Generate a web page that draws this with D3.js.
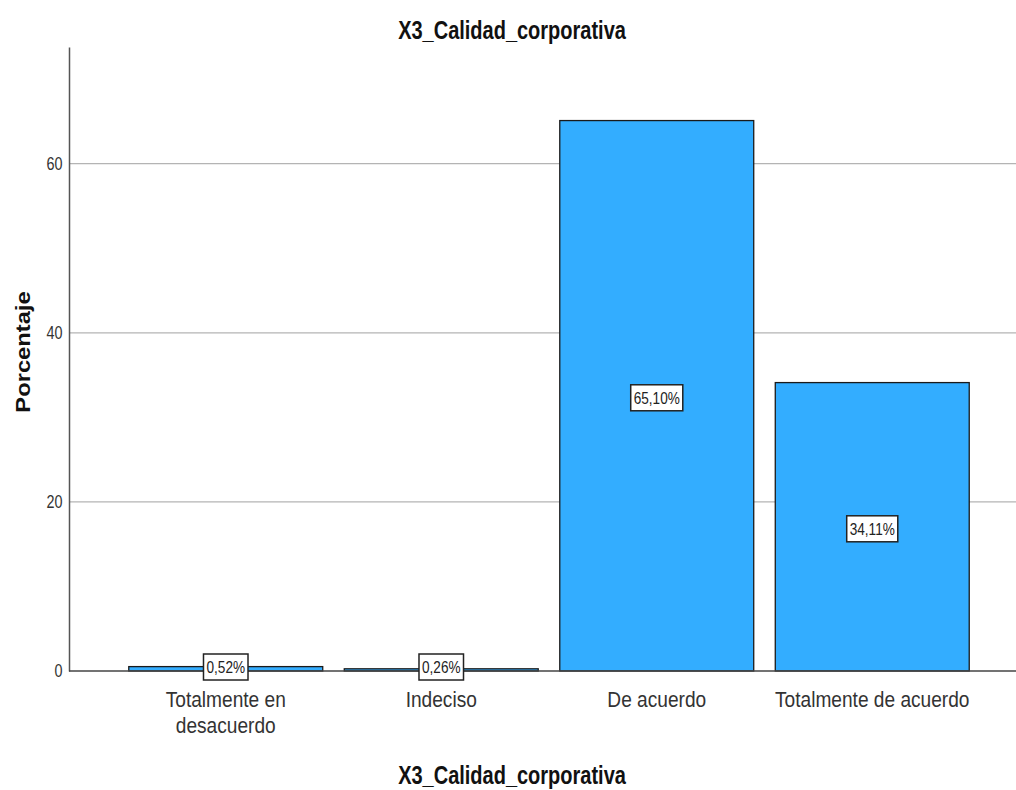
<!DOCTYPE html>
<html>
<head>
<meta charset="utf-8">
<script src="https://cdn.jsdelivr.net/npm/d3@7"></script>
<style>
  body { margin: 0; background: #fff; }
  svg { display: block; }
  text { font-family: "Liberation Sans", Arial, sans-serif; }
</style>
</head>
<body>
<script>
var categories = ["Totalmente en desacuerdo", "Indeciso", "De acuerdo", "Totalmente de acuerdo"];
var percentages = [0.52, 0.26, 65.10, 34.11];
var valueLabels = ["0,52%", "0,26%", "65,10%", "34,11%"];
var yTicks = [0, 20, 40, 60];

var WIDTH = 1016;
var HEIGHT = 790;
var AXIS_X = 69;
var BASE_Y = 671;
var TOP_Y = 47;
var SQUEEZE = 'scale(0.8,1)';

var translate = function (x, y) {
    return 'translate(' + x + ',' + y + ')';
};

var svg = d3.select('body').append('svg')
    .attr('width', WIDTH)
    .attr('height', HEIGHT);

var xScale = d3.scaleBand()
    .domain(categories)
    .range([118, 980])
    .paddingInner(0.1)
    .paddingOuter(0.05);

var yScale = d3.scaleLinear()
    .domain([0, 73.8])
    .range([BASE_Y, TOP_Y]);

// gridlines
svg.append('g').selectAll('line')
    .data(yTicks.filter(function (d) { return d > 0; }))
    .enter()
    .append('line')
    .attr('x1', AXIS_X)
    .attr('x2', WIDTH)
    .attr('y1', function (d) { return yScale(d); })
    .attr('y2', function (d) { return yScale(d); })
    .attr('stroke', '#b4b4b4')
    .attr('stroke-width', 1.2);

// bars
svg.append('g').selectAll('rect')
    .data(percentages)
    .enter()
    .append('rect')
    .attr('x', function (d, i) { return xScale(categories[i]); })
    .attr('width', xScale.bandwidth())
    .attr('y', function (d) { return yScale(d); })
    .attr('height', function (d) { return BASE_Y - yScale(d); })
    .attr('fill', '#33adff')
    .attr('stroke', '#1a1a1a')
    .attr('stroke-width', 1.3);

// y axis
var yAxis = d3.axisLeft(yScale).tickValues(yTicks).tickSize(0).tickPadding(8);
var yg = svg.append('g')
    .attr('transform', translate(AXIS_X, 0))
    .call(yAxis);
yg.select('.domain').attr('stroke', '#555').attr('stroke-width', 1.5);
yg.selectAll('text')
    .attr('transform', SQUEEZE)
    .style('font-family', '"Liberation Sans", Arial, sans-serif')
    .style('font-size', '18px')
    .attr('fill', '#333');

// x axis line
svg.append('line')
    .attr('x1', AXIS_X)
    .attr('x2', WIDTH)
    .attr('y1', BASE_Y)
    .attr('y2', BASE_Y)
    .attr('stroke', '#444')
    .attr('stroke-width', 1.5);

// x category labels (wrapped one uses two text lines)
var xg = svg.append('g').selectAll('g')
    .data(categories)
    .enter()
    .append('g')
    .attr('transform', function (d) { return translate(xScale(d) + xScale.bandwidth() / 2, 0); });

xg.each(function (d) {
    var g = d3.select(this);
    var lines = d === "Totalmente en desacuerdo" ? ["Totalmente en", "desacuerdo"] : [d];
    lines.forEach(function (l, k) {
        g.append('text')
            .attr('transform', 'scale(0.85,1)')
            .attr('text-anchor', 'middle')
            .attr('y', 707 + k * 26)
            .style('font-size', '22.5px')
            .attr('fill', '#333')
            .text(l);
    });
});

// value labels
var lab = svg.append('g').selectAll('g')
    .data(percentages)
    .enter()
    .append('g')
    .attr('transform', function (d, i) {
        var cx = xScale(categories[i]) + xScale.bandwidth() / 2;
        var cy = d > 5 ? (yScale(d) + BASE_Y) / 2 + 2 : 667;
        return translate(cx, cy);
    });

var boxes = lab.append('rect')
    .attr('fill', '#fff')
    .attr('stroke', '#222')
    .attr('stroke-width', 1.5);

var labText = lab.append('text')
    .attr('transform', 'scale(0.85,1)')
    .attr('text-anchor', 'middle')
    .attr('dy', '0.36em')
    .style('font-size', '16px')
    .attr('fill', '#222')
    .text(function (d, i) { return valueLabels[i]; });

labText.each(function (d, i) {
    var w = this.getComputedTextLength() * 0.85 + 6;
    d3.select(boxes.nodes()[i])
        .attr('x', -w / 2)
        .attr('y', -13)
        .attr('width', w)
        .attr('height', 26);
});

// title
svg.append('g')
    .attr('transform', translate(512, 39))
    .append('text')
    .attr('transform', SQUEEZE)
    .attr('text-anchor', 'middle')
    .style('font-size', '25px')
    .style('font-weight', 'bold')
    .attr('fill', '#111')
    .text('X3_Calidad_corporativa');

// x axis title
svg.append('g')
    .attr('transform', translate(512, 784))
    .append('text')
    .attr('transform', SQUEEZE)
    .attr('text-anchor', 'middle')
    .style('font-size', '25px')
    .style('font-weight', 'bold')
    .attr('fill', '#111')
    .text('X3_Calidad_corporativa');

// y axis title
svg.append('text')
    .attr('transform', 'translate(30,352) rotate(-90) scale(1.13,1)')
    .attr('text-anchor', 'middle')
    .style('font-size', '21px')
    .style('font-weight', 'bold')
    .attr('fill', '#111')
    .text('Porcentaje');
</script>
</body>
</html>
